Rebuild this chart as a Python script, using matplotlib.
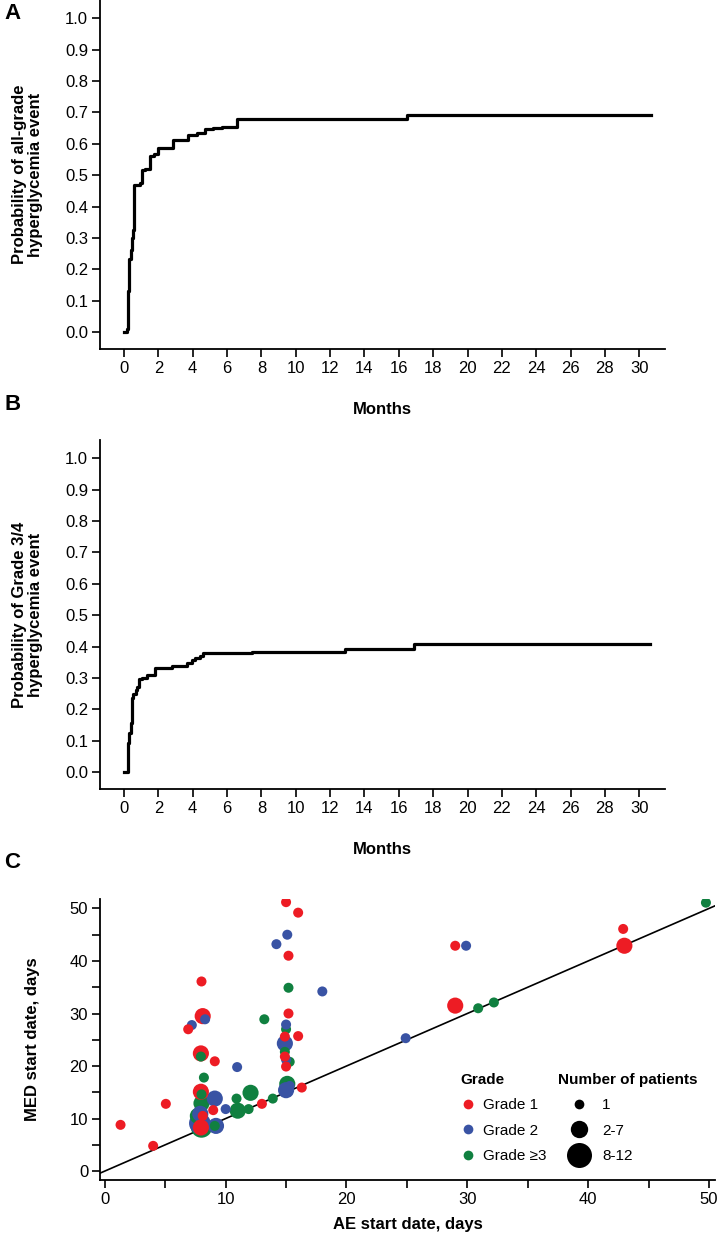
import numpy as np
import matplotlib
matplotlib.use('Agg')
import matplotlib.pyplot as plt
from matplotlib.lines import Line2D

plt.rcParams['font.family'] = ['Liberation Sans', 'DejaVu Sans']

# --- Panel A: all-grade hyperglycemia (cumulative probability, step curve)
a_months = [0, 0.15, 0.25, 0.31, 0.39, 0.45, 0.5, 0.56, 0.93, 1.03, 1.22, 1.51, 1.77,
            2.0, 2.87, 3.75, 4.23, 4.72, 5.2, 5.69, 6.56, 16.5, 30.7]
a_prob = [0.0, 0.01, 0.13, 0.234, 0.26, 0.30, 0.324, 0.468, 0.476, 0.516, 0.521, 0.562,
          0.567, 0.588, 0.612, 0.628, 0.633, 0.646, 0.651, 0.654, 0.679, 0.69, 0.69]

# --- Panel B: grade 3/4 hyperglycemia
b_months = [0, 0.25, 0.31, 0.39, 0.45, 0.54, 0.7, 0.78, 0.89, 1.03, 1.32, 1.81, 2.78,
            3.69, 3.94, 4.14, 4.43, 4.62, 7.44, 12.87, 16.9, 30.6]
b_prob = [0.0, 0.091, 0.123, 0.155, 0.235, 0.25, 0.26, 0.27, 0.295, 0.30, 0.31, 0.33,
          0.339, 0.349, 0.357, 0.364, 0.37, 0.38, 0.384, 0.391, 0.407, 0.407]

# --- Panel C: AE start vs MED start (grade 1/2/3, size class 0='1', 1='2-7', 2='8-12')
ae_day = [1.3, 4.0, 5.05, 6.9, 8.1, 8.0, 7.95, 9.1, 7.95, 8.97, 8.1, 7.95, 13.0, 15.0,
          16.0, 15.2, 15.2, 14.9, 16.0, 14.9, 15.0, 16.3, 29.0, 29.0, 42.9, 43.0,
          7.2, 8.3, 10.95, 15.0, 14.9, 15.0, 15.1, 14.2, 18.0, 24.9, 29.9,
          7.9, 7.86, 9.2, 9.1, 10.0, 15.0, 15.3,
          13.2, 15.2, 15.0, 7.95, 8.2, 8.0, 8.0, 7.7, 8.0, 10.9, 12.06, 11.0, 11.9, 13.9,
          15.1, 14.9, 15.3, 9.1, 30.9, 32.2, 49.75]
med_day = [8.8, 4.8, 12.8, 27.0, 29.5, 36.1, 22.4, 20.9, 15.1, 11.6, 10.5, 8.3, 12.8, 51.2,
           49.2, 41.0, 30.0, 25.6, 25.7, 21.8, 19.9, 15.9, 42.9, 31.5, 46.1, 42.9,
           27.8, 28.9, 19.8, 27.9, 24.3, 21.2, 45.0, 43.2, 34.2, 25.3, 42.9,
           10.9, 9.1, 8.6, 13.8, 11.8, 15.4, 16.2,
           28.9, 34.9, 27.0, 21.8, 17.8, 14.6, 12.9, 10.5, 8.4, 13.8, 14.9, 11.5, 11.8, 13.8,
           16.6, 22.7, 20.8, 8.6, 31.0, 32.1, 51.1]
grade = [1] * 26 + [2] * 18 + [3] * 21
size_cls = [0, 0, 0, 0, 1, 0, 1, 0, 1, 0, 0, 1, 0, 0,
            0, 0, 0, 0, 0, 0, 0, 0, 0, 1, 0, 1,
            0, 0, 0, 0, 1, 0, 0, 0, 0, 0, 0,
            1, 2, 1, 1, 0, 1, 0,
            0, 0, 0, 0, 0, 0, 1, 1, 2, 0, 1, 1, 0, 0,
            1, 0, 0, 0, 0, 0, 0]

grade_colors = {1: '#ED1C24', 2: '#3953A4', 3: '#108040'}
grade_labels = ['Grade 1', 'Grade 2', 'Grade \u22653']
size_labels = ['1', '2-7', '8-12']
size_area = [52, 135, 240]
size_ms = [7, 12.5, 18]

W, H = 721, 1240
fig = plt.figure(figsize=(W / 100, H / 100), dpi=100)


def km_axes(top_px, months, prob, ylabel):
    ax = fig.add_axes([100 / W, 1 - (top_px + 349) / H, 565 / W, 349 / H])
    ax.step(months, prob, where='post', color='black', lw=2.3)
    ax.set_xlim(-1.4, 31.5)
    ax.set_ylim(-0.054, 1.058)
    ax.set_xticks(range(0, 31, 2))
    ax.set_yticks(np.arange(0, 1.01, 0.1))
    ax.set_yticklabels([f'{v:.1f}' for v in np.arange(0, 1.01, 0.1)])
    ax.set_xlabel('Months', fontsize=12, fontweight='bold')
    ax.xaxis.set_label_coords(0.5, -53 / 349)
    ax.set_ylabel(ylabel, fontsize=12, fontweight='bold', linespacing=1.1)
    ax.yaxis.set_label_coords(-0.1, 0.5)
    return ax


axA = km_axes(0, a_months, a_prob, 'Probability of all-grade\nhyperglycemia event')
axB = km_axes(440, b_months, b_prob, 'Probability of Grade 3/4\nhyperglycemia event')

axC = fig.add_axes([100 / W, 1 - 1180 / H, 615 / W, 281 / H])
axC.axline((0, 0), slope=1, color='black', lw=1.2, zorder=1)
ae = np.array(ae_day)
med = np.array(med_day)
gr = np.array(grade)
sc = np.array(size_cls)
order = np.lexsort((-gr, -sc))
axC.scatter(ae[order], med[order],
            s=[size_area[k] for k in sc[order]],
            c=[grade_colors[g] for g in gr[order]],
            linewidths=0, zorder=2)
axC.set_xlim(-0.4, 50.5)
axC.set_ylim(-1.7, 51.8)
axC.set_xticks(range(0, 51, 5))
axC.set_xticklabels([str(v) if v % 10 == 0 else '' for v in range(0, 51, 5)])
axC.set_yticks(range(0, 51, 5))
axC.set_yticklabels([str(v) if v % 10 == 0 else '' for v in range(0, 51, 5)])
axC.set_xlabel('AE start date, days', fontsize=12, fontweight='bold')
axC.xaxis.set_label_coords(0.5, -37 / 281)
axC.set_ylabel('MED start date, days', fontsize=12, fontweight='bold')
axC.yaxis.set_label_coords(-0.097, 0.5)

for ax in (axA, axB, axC):
    for side in ('top', 'right'):
        ax.spines[side].set_visible(False)
    for side in ('left', 'bottom'):
        ax.spines[side].set_linewidth(1.3)
    ax.tick_params(direction='out', length=5.5, width=1.2, labelsize=12, pad=3)

# legends
grade_handles = [Line2D([], [], ls='none', marker='o', ms=7, mew=0,
                        mfc=grade_colors[g], label=lab)
                 for g, lab in zip([1, 2, 3], grade_labels)]
size_handles = [Line2D([], [], ls='none', marker='o', ms=m, mew=0, mfc='black', label=lab)
                for m, lab in zip(size_ms, size_labels)]
leg_kw = dict(loc='upper left', bbox_transform=fig.transFigure, frameon=False,
              fontsize=11, borderpad=0, labelspacing=0.75, alignment='left',
              title_fontproperties={'weight': 'bold', 'size': 11})
leg1 = axC.legend(handles=grade_handles, title='Grade',
                  bbox_to_anchor=(453 / W, 1 - 1065 / H),
                  handlelength=1, handletextpad=0.45, **leg_kw)
axC.add_artist(leg1)
axC.legend(handles=size_handles, title='Number of patients',
           bbox_to_anchor=(550 / W, 1 - 1065 / H),
           handlelength=2.8, handletextpad=0.1, **leg_kw)

for lab, ypx in (('A', 3), ('B', 394), ('C', 852)):
    fig.text(4 / W, 1 - ypx / H, lab, fontsize=16, fontweight='bold', va='top', ha='left')

fig.savefig('out.png', dpi=100)
